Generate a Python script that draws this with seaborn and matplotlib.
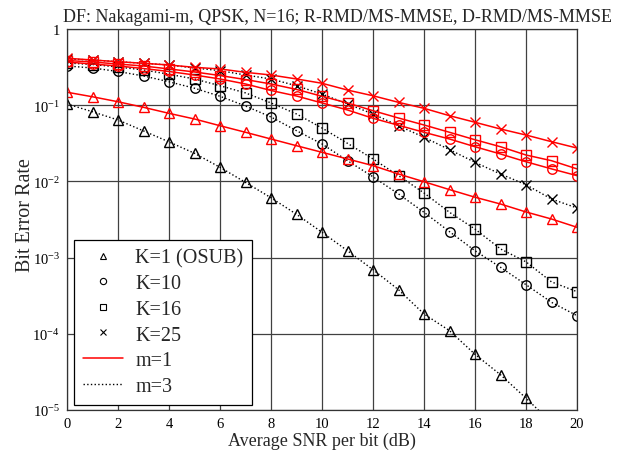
import numpy as np
import pandas as pd
import matplotlib
matplotlib.use("Agg")
import matplotlib.pyplot as plt
import seaborn as sns
from matplotlib.lines import Line2D
from matplotlib.ticker import FixedLocator, FuncFormatter

snr = list(range(0, 21))

# m = 1 (red, solid)
m1_k1 = [0.148, 0.129, 0.111, 0.0938, 0.0782, 0.0659, 0.0538, 0.0441, 0.0360, 0.0294, 0.0241,
         0.0197, 0.0161, 0.0125, 0.0099, 0.0078, 0.0062, 0.00505, 0.00397, 0.00321, 0.0025]
m1_k10 = [0.369, 0.347, 0.327, 0.303, 0.277, 0.249, 0.221, 0.190, 0.156, 0.132, 0.107,
          0.0865, 0.0673, 0.0545, 0.0441, 0.036, 0.0285, 0.0229, 0.0181, 0.0146, 0.0119]
m1_k16 = [0.386, 0.369, 0.347, 0.327, 0.299, 0.273, 0.245, 0.217, 0.190, 0.161, 0.131,
          0.107, 0.0847, 0.0679, 0.055, 0.0441, 0.0352, 0.0285, 0.0222, 0.0187, 0.0146]
m1_k25 = [0.413, 0.392, 0.372, 0.355, 0.337, 0.314, 0.299, 0.270, 0.249, 0.221, 0.194,
          0.158, 0.133, 0.109, 0.091, 0.0728, 0.0597, 0.0487, 0.0406, 0.0332, 0.0274]

# m = 3 (black, dotted)
m3_k1 = [0.104, 0.082, 0.064, 0.046, 0.033, 0.0234, 0.0153, 0.0097, 0.0061, 0.0037, 0.00215,
         0.00123, 0.000694, 0.000379, 0.000182, 0.000110, 5.38e-5, 2.9e-5, 1.43e-5, 6.8e-6, 3.3e-6]
m3_k10 = [0.327, 0.308, 0.277, 0.242, 0.203, 0.167, 0.131, 0.0976, 0.070, 0.0463, 0.031,
          0.0187, 0.0115, 0.00684, 0.00393, 0.00219, 0.00123, 0.000746, 0.000441, 0.000259, 0.000173]
m3_k16 = [0.358, 0.342, 0.317, 0.290, 0.255, 0.221, 0.180, 0.145, 0.107, 0.0767, 0.0502,
          0.0316, 0.0197, 0.0119, 0.00705, 0.00393, 0.00237, 0.0013, 0.00088, 0.00048, 0.000357]
m3_k25 = [0.404, 0.392, 0.372, 0.355, 0.337, 0.308, 0.284, 0.249, 0.221, 0.180, 0.140,
          0.104, 0.0767, 0.0538, 0.0379, 0.0261, 0.0178, 0.0125, 0.00905, 0.00587, 0.00448]

k_labels = ["K=1 (OSUB)", "K=10", "K=16", "K=25"]
k_markers = ["^", "o", "s", "x"]
m_labels = ["m=1", "m=3"]

title = "DF: Nakagami-m, QPSK, N=16; R-RMD/MS-MMSE, D-RMD/MS-MMSE"
xlabel = "Average SNR per bit (dB)"
ylabel = "Bit Error Rate"
xticks = list(range(0, 21, 2))
yticks = [1e-5, 1e-4, 1e-3, 1e-2, 1e-1, 1]

sns.set_style("white")
plt.rcParams["font.family"] = ["Liberation Serif", "DejaVu Serif"]
plt.rcParams["mathtext.fontset"] = "custom"
plt.rcParams["mathtext.rm"] = "Liberation Serif"
plt.rcParams["mathtext.it"] = "Liberation Serif:italic"
plt.rcParams["mathtext.bf"] = "Liberation Serif:bold"

fig = plt.figure(figsize=(6.18, 4.60), dpi=100)
ax = fig.add_axes([67 / 618, 1 - 411 / 460, 510 / 618, 381 / 460])

series = [
    (m3_k1, "k", ":", "^"), (m3_k10, "k", ":", "o"), (m3_k16, "k", ":", "s"), (m3_k25, "k", ":", "x"),
    (m1_k1, "red", "-", "^"), (m1_k10, "red", "-", "o"), (m1_k16, "red", "-", "s"), (m1_k25, "red", "-", "x"),
]
for vals, col, ls, mk in series:
    df = pd.DataFrame({"snr": snr, "ber": vals})
    lw = 1.1 if ls == "-" else 1.0
    ms = 7.5 if mk == "x" else 6.8
    sns.lineplot(data=df, x="snr", y="ber", ax=ax, color=col, linestyle=ls, linewidth=lw,
                 marker=mk, ms=ms, mfc="none", mec=col, mew=1.0, legend=False)

ax.set_yscale("log")
ax.set_xlim(0, 20)
ax.set_ylim(1e-5, 1)
ax.xaxis.set_major_locator(FixedLocator(xticks))
ax.yaxis.set_major_locator(FixedLocator(yticks))
ax.yaxis.set_minor_locator(FixedLocator([]))


def yfmt(v, pos):
    if abs(v - 1) < 1e-9:
        return "1"
    return r"$10^{%d}$" % int(round(np.log10(v)))


ax.yaxis.set_major_formatter(FuncFormatter(yfmt))
ax.grid(True, which="major", color="0.25", linewidth=0.9)
ax.tick_params(axis="both", length=0, labelsize=10.5, pad=5, colors="k")
for sp in ax.spines.values():
    sp.set_color("0.2")
    sp.set_linewidth(0.9)

ax.set_xlabel(xlabel, fontsize=13, labelpad=1)
ax.set_ylabel(ylabel, fontsize=14.5)
ax.yaxis.set_label_coords(-0.062, 0.513)
fig.text(63 / 618, 1 - 17 / 460, title, fontsize=13, ha="left", va="center")

handles = [Line2D([], [], color="k", linestyle="none", marker=mk, ms=4.5, mfc="none", mew=0.8)
           for mk in k_markers]
handles += [Line2D([], [], color="red", linestyle="-", linewidth=1.1),
            Line2D([], [], color="k", linestyle=":", linewidth=1.0)]
leg = ax.legend(handles, k_labels + m_labels, loc="lower left", bbox_to_anchor=(0.013, 0.014),
                fontsize=14.5, frameon=True, fancybox=False, framealpha=1, edgecolor="k",
                handlelength=2.0, handletextpad=0.6, borderpad=0.45, labelspacing=0.32,
                borderaxespad=0)
leg.get_frame().set_linewidth(0.9)

fig.savefig("out.png", dpi=100)
